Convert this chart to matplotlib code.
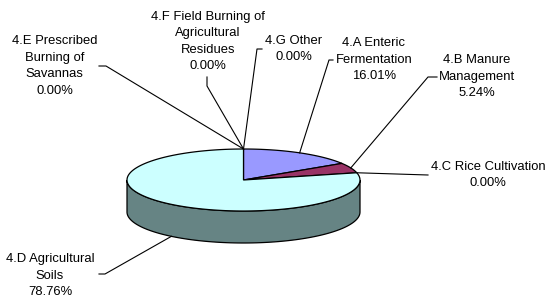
import numpy as np
import matplotlib
matplotlib.use("Agg")
import matplotlib.pyplot as plt
from matplotlib.patches import Polygon

# categories and shares (%)
labels = ["4.A Enteric\nFermentation", "4.B Manure\nManagement", "4.C Rice Cultivation",
          "4.D Agricultural\nSoils", "4.E Prescribed\nBurning of\nSavannas",
          "4.F Field Burning of\nAgricultural\nResidues", "4.G Other"]
values = [16.01, 5.24, 0.00, 78.76, 0.00, 0.00, 0.00]
top_colors = ["#9999FF", "#993366", "#FFFFC0", "#CCFFFF", "#660066", "#FF8080", "#0066CC"]
side_colors = ["#5C5C99", "#5C1F3D", "#99997A", "#668484", "#3D003D", "#994D4D", "#003D7A"]

# label placement (pixel coords) and leader elbow points
text_pos = [(374, 59.7), (477, 76.7), (488, 175), (50, 275.7), (54.5, 65.8), (208, 41.5), (294, 49)]
elbows = [[(329, 60), (333, 60)], [(428, 77), (437, 77)], [(428, 175)],
          [(105, 274), (99, 274)], [(106, 66), (99, 66)], [(207, 86), (207, 77)],
          [(257, 49), (262, 49)]]

cx, cy, a, b, depth = 243.5, 180.0, 116.5, 31.0, 32.0


def pt(theta, dz=0.0):
    t = np.radians(theta)
    return cx + a * np.sin(t), cy - b * np.cos(t) + dz


fig = plt.figure(figsize=(5.47, 3.02), dpi=100, facecolor="w")
ax = fig.add_axes([0, 0, 1, 1])
ax.set_xlim(0, 547)
ax.set_ylim(302, 0)
ax.axis("off")

total = sum(values)
bounds = np.concatenate([[0], np.cumsum(values) / total * 360])

# sides (front half only)
for i in range(len(values)):
    s, e = max(bounds[i], 90), min(bounds[i + 1], 270)
    if e <= s:
        continue
    th = np.linspace(s, e, 100)
    xt, yt = pt(th)
    xb, yb = pt(th[::-1], depth)
    poly = np.column_stack([np.r_[xt, xb], np.r_[yt, yb]])
    ax.add_patch(Polygon(poly, closed=True, facecolor=side_colors[i],
                         edgecolor="black", lw=0.9, zorder=1))

# top faces
for i in range(len(values)):
    s, e = bounds[i], bounds[i + 1]
    if e - s <= 0:
        continue
    th = np.linspace(s, e, 200)
    xt, yt = pt(th)
    poly = np.column_stack([np.r_[cx, xt], np.r_[cy, yt]])
    ax.add_patch(Polygon(poly, closed=True, facecolor=top_colors[i],
                         edgecolor="black", lw=0.9, zorder=2))

# labels with leader lines
for i in range(len(values)):
    mid = (bounds[i] + bounds[i + 1]) / 2
    if 90 < mid < 270 and values[i] > 0:
        x0, y0 = pt(mid, depth)
    else:
        x0, y0 = pt(mid)
    xs = [x0] + [p[0] for p in elbows[i]]
    ys = [y0] + [p[1] for p in elbows[i]]
    ax.plot(xs, ys, color="black", lw=0.8, zorder=3)
    ax.text(text_pos[i][0], text_pos[i][1], "%s\n%.2f%%" % (labels[i], values[i]),
            ha="center", va="center", fontsize=9.4, family="Liberation Sans",
            linespacing=1.5, zorder=4)

fig.savefig("out.png", dpi=100, facecolor="w")
